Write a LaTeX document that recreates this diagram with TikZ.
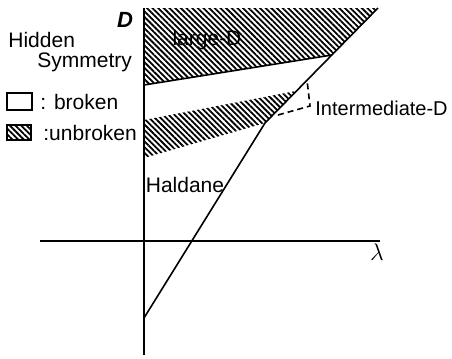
\documentclass[tikz,border=0pt]{standalone}
\usepackage{fontspec}
\setmainfont{Liberation Sans}
\usetikzlibrary{patterns.meta}

\tikzset{
  hatch/.style={pattern={Lines[angle=-45,distance=2pt,line width=0.9pt]}},
  lbl/.style={font=\fontsize{10.5}{12}\selectfont, inner sep=0pt},
}

\begin{document}
\begin{tikzpicture}[x=0.5pt,y=-0.5pt]
  \useasboundingbox (0,0) rectangle (452,359);
  % axes end points
  \coordinate (xl) at (40,241);
  \coordinate (xr) at (380,241);
  \coordinate (yt) at (144,8);
  \coordinate (yb) at (144,355);
  % phase boundary
  \coordinate (top) at (378,8);
  \coordinate (kink) at (265,123);
  \coordinate (bot) at (144,318);
  \coordinate (meet) at (332,55);
  \coordinate (ldl) at (144,85);
  % large-D phase (hatched)
  \fill[hatch] (yt) -- (top) -- (meet) -- (ldl) -- cycle;
  % intermediate-D band (hatched)
  \fill[hatch] (144,120) -- (296,91) -- (kink) -- (144,158) -- cycle;
  \draw[line width=0.8pt] (ldl) -- (meet);
  \draw[line width=0.8pt] (bot) -- (kink) -- (top);
  % axes
  \draw[line width=1.4pt] (xl) -- (xr);
  \draw[line width=1pt] (yt) -- (yb);
  \node[lbl, font=\fontsize{11}{12}\selectfont\bfseries\itshape] (dlab) at (125,20) {D};
  \node[lbl, font=\fontsize{12}{12}\selectfont] (lam) at (377,252) {$\lambda$};
  % phase names
  \node[lbl] (large) at (207,40) {large-D};
  \node[lbl] (hald) at (185,185) {Haldane};
  \node[lbl, anchor=west, font=\fontsize{10}{12}\selectfont] (inter) at (315,108) {Intermediate-D};
  \coordinate (ilo) at (278,115);
  \coordinate (ibend) at (310,106);
  \coordinate (ihi) at (307,80);
  \draw[dashed, line width=0.8pt, dash pattern=on 3pt off 2pt] (ilo) -- (ibend) -- (ihi);
  % legend
  \node[lbl, anchor=west] (hid) at (8,40) {Hidden};
  \node[lbl, anchor=west] (sym) at (37,62) {Symmetry};
  \node[draw, line width=0.7pt, minimum width=12.5pt, minimum height=8.5pt, inner sep=0pt] (bbox) at (19.5,101.5) {};
  \node[lbl, anchor=west] (brk) at (40,102) {: broken};
  \node[draw, hatch, line width=0.7pt, minimum width=12pt, minimum height=7.5pt, inner sep=0pt] (ubox) at (19,132.5) {};
  \node[lbl, anchor=west] (ubrk) at (43,133) {:unbroken};
\end{tikzpicture}
\end{document}
